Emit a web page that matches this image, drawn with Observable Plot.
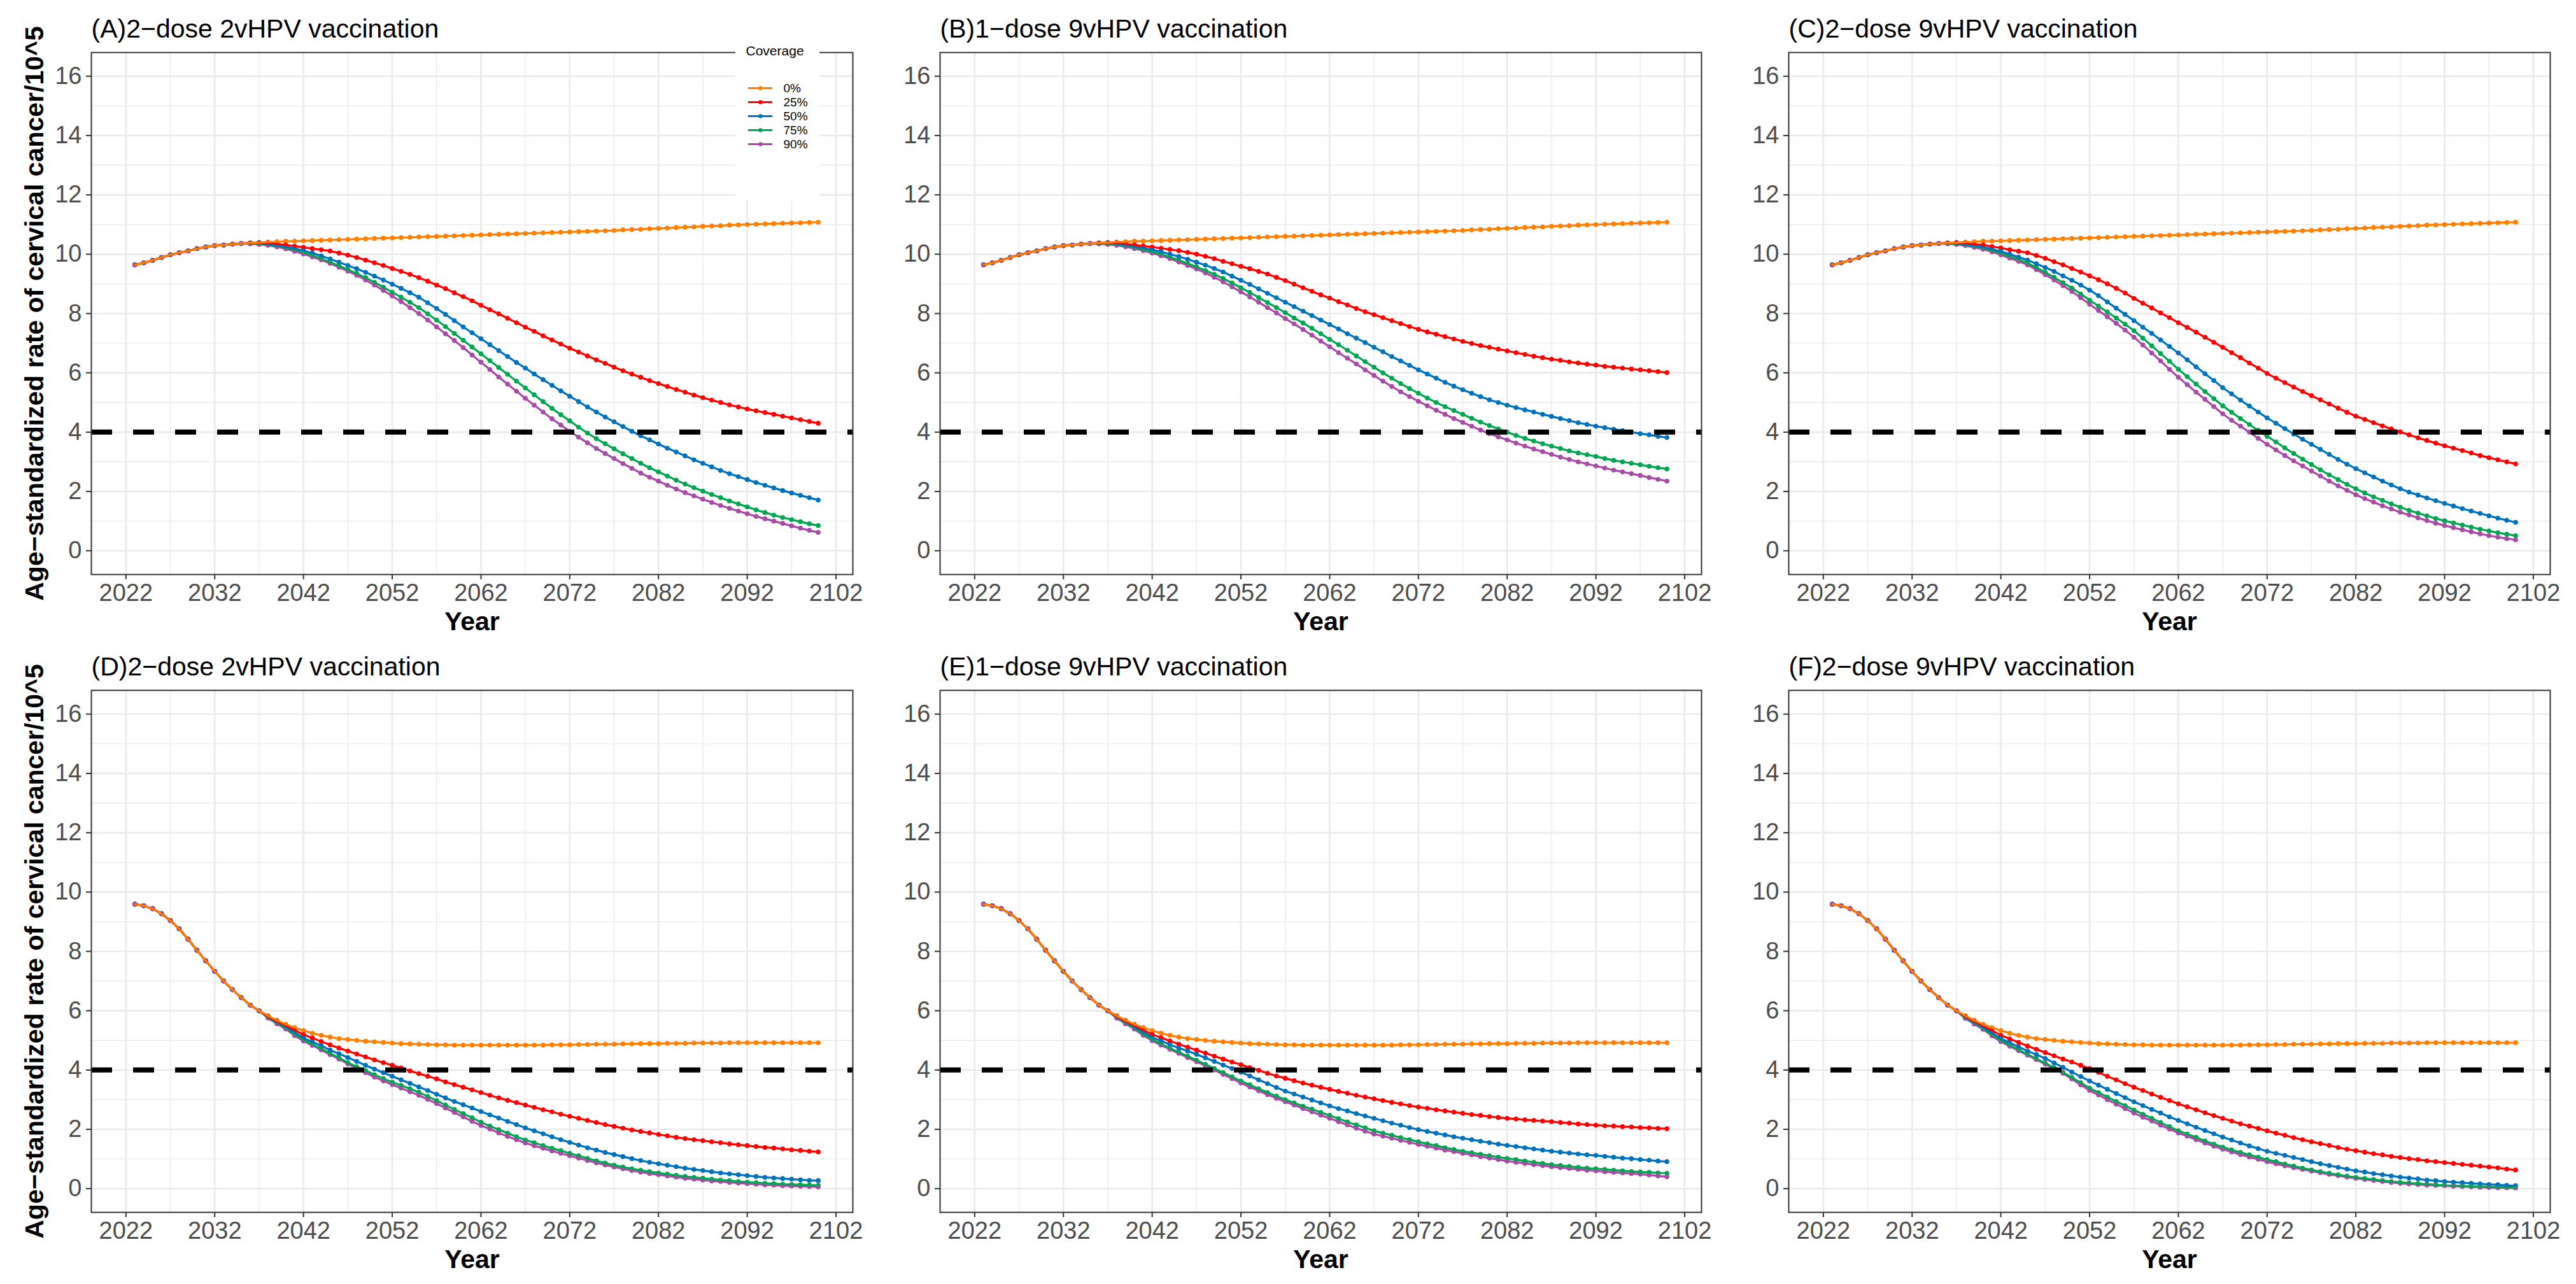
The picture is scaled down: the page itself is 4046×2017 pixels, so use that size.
<!DOCTYPE html>
<html><head><meta charset="utf-8">
<script src="https://cdn.jsdelivr.net/npm/d3@7"></script>
<script src="https://cdn.jsdelivr.net/npm/@observablehq/plot@0.6"></script>
<style>
html,body{margin:0;padding:0;background:#fff;}
#fig{position:relative;width:4046px;height:2017px;background:#fff;overflow:hidden;}
.panel{position:absolute;}
.legend{position:absolute;background:#fff;z-index:5;}
</style></head><body><div id="fig"></div>
<script>
// ---------------- data ----------------
const years = [2023,2024,2025,2026,2027,2028,2029,2030,2031,2032,2033,2034,2035,2036,2037,2038,2039,2040,2041,2042,2043,2044,2045,2046,2047,2048,2049,2050,2051,2052,2053,2054,2055,2056,2057,2058,2059,2060,2061,2062,2063,2064,2065,2066,2067,2068,2069,2070,2071,2072,2073,2074,2075,2076,2077,2078,2079,2080,2081,2082,2083,2084,2085,2086,2087,2088,2089,2090,2091,2092,2093,2094,2095,2096,2097,2098,2099,2100];
const coverage = ["0%","25%","50%","75%","90%"];
const colors = ["#FF7F00","#FF0000","#0072BD","#00A651","#A64CA6"];
const xTicks = [2022,2032,2042,2052,2062,2072,2082,2092,2102];
const xMinor = [2027,2037,2047,2057,2067,2077,2087,2097];
const yTicks = [0,2,4,6,8,10,12,14,16];
const yMinor = [1,3,5,7,9,11,13,15];
const threshold = 4;
const titles = ["(A)2\u2212dose 2vHPV vaccination","(B)1\u2212dose 9vHPV vaccination","(C)2\u2212dose 9vHPV vaccination",
                "(D)2\u2212dose 2vHPV vaccination","(E)1\u2212dose 9vHPV vaccination","(F)2\u2212dose 9vHPV vaccination"];
const yLabel = "Age\u2212standardized rate of cervical cancer/10^5";
const xLabel = "Year";
const legendTitle = "Coverage";

// top row, 0% coverage (2023-2100), same in A, B, C
const top0 = [9.64,9.71,9.79,9.89,9.98,10.05,10.11,10.19,10.24,10.29,
10.31,10.34,10.36,10.38,10.39,10.41,10.42,10.44,10.44,10.45,
10.46,10.47,10.48,10.49,10.50,10.51,10.52,10.53,10.54,10.55,
10.56,10.57,10.58,10.59,10.60,10.61,10.62,10.63,10.64,10.65,
10.66,10.67,10.68,10.69,10.70,10.71,10.72,10.73,10.74,10.75,
10.76,10.77,10.78,10.79,10.80,10.82,10.83,10.84,10.86,10.87,
10.88,10.90,10.91,10.92,10.94,10.95,10.96,10.98,10.99,11.00,
11.01,11.02,11.03,11.04,11.05,11.06,11.07,11.08];
// 2023-2035 identical for all coverages in the top row
const topShared = top0.slice(0, 13);

// vaccinated series from 2036 to 2100
const A25 = topShared.concat([10.38,10.39,10.38,10.35,10.31,10.27,10.23,10.19,10.15,10.11,
10.04,9.97,9.89,9.80,9.71,9.62,9.52,9.42,9.32,9.21,
9.09,8.96,8.84,8.70,8.57,8.43,8.28,8.13,7.99,7.84,
7.69,7.54,7.40,7.25,7.11,6.97,6.83,6.70,6.57,6.44,
6.32,6.19,6.07,5.96,5.85,5.74,5.64,5.54,5.44,5.35,
5.25,5.16,5.08,5.00,4.92,4.85,4.78,4.72,4.66,4.60,
4.54,4.48,4.42,4.36,4.30]);
const A50 = topShared.concat([10.37,10.37,10.34,10.30,10.25,10.19,10.12,10.04,9.94,9.84,
9.73,9.62,9.51,9.39,9.26,9.13,8.99,8.85,8.70,8.55,
8.36,8.17,7.97,7.76,7.55,7.35,7.15,6.95,6.75,6.55,
6.35,6.16,5.96,5.77,5.58,5.39,5.21,5.03,4.85,4.68,
4.51,4.35,4.19,4.03,3.88,3.74,3.60,3.46,3.33,3.20,
3.07,2.95,2.83,2.71,2.60,2.50,2.40,2.30,2.21,2.12,
2.03,1.95,1.87,1.79,1.71]);
const A75 = topShared.concat([10.36,10.35,10.32,10.28,10.22,10.15,10.06,9.96,9.85,9.73,
9.61,9.48,9.35,9.21,9.05,8.89,8.72,8.55,8.38,8.20,
7.99,7.78,7.56,7.33,7.10,6.87,6.64,6.41,6.18,5.95,
5.72,5.49,5.26,5.03,4.80,4.59,4.38,4.17,3.97,3.78,
3.61,3.44,3.27,3.11,2.95,2.80,2.66,2.52,2.38,2.25,
2.13,2.01,1.90,1.79,1.68,1.58,1.48,1.38,1.29,1.20,
1.12,1.05,0.98,0.91,0.85]);
const A90 = topShared.concat([10.35,10.33,10.30,10.25,10.18,10.10,10.01,9.91,9.81,9.69,
9.56,9.43,9.29,9.13,8.96,8.78,8.59,8.40,8.20,8.00,
7.78,7.55,7.32,7.09,6.85,6.60,6.36,6.11,5.86,5.62,
5.38,5.14,4.91,4.68,4.45,4.24,4.03,3.83,3.64,3.45,
3.28,3.11,2.94,2.78,2.62,2.48,2.35,2.21,2.08,1.96,
1.85,1.74,1.63,1.53,1.43,1.34,1.25,1.16,1.08,1.00,
0.92,0.84,0.76,0.69,0.62]);

const B25 = topShared.concat([10.38,10.39,10.38,10.35,10.31,10.28,10.24,10.20,10.16,10.12,
10.06,10.00,9.93,9.85,9.76,9.68,9.59,9.51,9.42,9.33,
9.22,9.11,8.99,8.87,8.75,8.63,8.52,8.40,8.29,8.17,
8.06,7.96,7.86,7.76,7.66,7.56,7.47,7.38,7.30,7.22,
7.14,7.06,6.99,6.92,6.86,6.80,6.74,6.68,6.62,6.56,
6.51,6.46,6.42,6.37,6.33,6.29,6.26,6.22,6.19,6.16,
6.13,6.10,6.07,6.04,6.01]);
const B50 = topShared.concat([10.37,10.37,10.35,10.31,10.26,10.21,10.15,10.08,10.00,9.92,
9.83,9.73,9.63,9.52,9.40,9.26,9.12,8.98,8.83,8.68,
8.53,8.38,8.23,8.08,7.93,7.78,7.63,7.48,7.32,7.17,
7.02,6.86,6.71,6.55,6.40,6.25,6.10,5.96,5.82,5.68,
5.55,5.43,5.31,5.20,5.09,5.00,4.91,4.83,4.75,4.68,
4.60,4.53,4.46,4.39,4.32,4.26,4.20,4.15,4.10,4.05,
4.00,3.95,3.91,3.86,3.82]);
const B75 = topShared.concat([10.36,10.35,10.32,10.28,10.23,10.16,10.08,10.00,9.90,9.80,
9.69,9.57,9.45,9.32,9.18,9.03,8.87,8.71,8.54,8.37,
8.20,8.03,7.85,7.68,7.50,7.32,7.13,6.95,6.76,6.57,
6.38,6.19,6.00,5.82,5.64,5.47,5.31,5.15,5.00,4.86,
4.73,4.60,4.47,4.34,4.22,4.11,4.00,3.89,3.79,3.70,
3.61,3.53,3.45,3.37,3.30,3.24,3.18,3.11,3.05,3.00,
2.95,2.90,2.85,2.80,2.76]);
const B90 = topShared.concat([10.35,10.33,10.30,10.25,10.19,10.12,10.04,9.95,9.85,9.74,
9.62,9.50,9.37,9.22,9.07,8.90,8.73,8.56,8.38,8.20,
8.02,7.83,7.65,7.46,7.27,7.07,6.88,6.68,6.49,6.30,
6.10,5.91,5.72,5.54,5.36,5.20,5.04,4.89,4.74,4.60,
4.46,4.33,4.20,4.07,3.95,3.84,3.74,3.63,3.53,3.43,
3.34,3.25,3.16,3.08,3.00,2.93,2.86,2.79,2.72,2.66,
2.60,2.54,2.47,2.41,2.35]);

const C25 = topShared.concat([10.38,10.39,10.37,10.34,10.31,10.26,10.21,10.15,10.10,10.05,
9.96,9.86,9.75,9.64,9.52,9.40,9.27,9.14,9.00,8.85,
8.69,8.51,8.35,8.19,8.02,7.86,7.69,7.53,7.37,7.20,
7.03,6.86,6.68,6.51,6.33,6.16,5.98,5.82,5.67,5.52,
5.37,5.23,5.09,4.95,4.81,4.67,4.54,4.43,4.32,4.21,
4.11,4.01,3.91,3.81,3.72,3.63,3.54,3.46,3.38,3.30,
3.21,3.14,3.07,3.00,2.93]);
const C50 = topShared.concat([10.37,10.36,10.33,10.29,10.24,10.17,10.09,10.00,9.90,9.80,
9.68,9.55,9.42,9.27,9.12,8.96,8.79,8.60,8.39,8.18,
7.97,7.76,7.54,7.33,7.11,6.89,6.67,6.44,6.20,5.97,
5.74,5.50,5.29,5.08,4.88,4.68,4.48,4.30,4.12,3.94,
3.76,3.59,3.42,3.25,3.08,2.92,2.77,2.63,2.49,2.35,
2.22,2.09,1.98,1.88,1.78,1.69,1.60,1.51,1.42,1.34,
1.26,1.18,1.10,1.03,0.96]);
const C75 = topShared.concat([10.36,10.34,10.31,10.26,10.21,10.12,10.03,9.93,9.82,9.70,
9.55,9.39,9.22,9.04,8.86,8.66,8.45,8.25,8.05,7.85,
7.64,7.42,7.17,6.91,6.65,6.39,6.12,5.87,5.62,5.37,
5.13,4.89,4.67,4.46,4.26,4.06,3.86,3.67,3.47,3.28,
3.09,2.91,2.73,2.56,2.40,2.24,2.09,1.95,1.82,1.70,
1.58,1.47,1.36,1.27,1.18,1.09,1.01,0.94,0.87,0.80,
0.73,0.67,0.61,0.56,0.51]);
const C90 = topShared.concat([10.35,10.33,10.29,10.23,10.17,10.08,9.98,9.87,9.76,9.64,
9.48,9.31,9.13,8.94,8.74,8.53,8.31,8.10,7.89,7.67,
7.44,7.20,6.94,6.67,6.40,6.12,5.85,5.60,5.35,5.11,
4.86,4.62,4.40,4.20,4.00,3.79,3.59,3.40,3.21,3.03,
2.86,2.69,2.52,2.35,2.19,2.04,1.89,1.76,1.64,1.52,
1.41,1.30,1.21,1.11,1.02,0.93,0.85,0.78,0.71,0.64,
0.57,0.51,0.46,0.41,0.37]);

// bottom row, 0% coverage (2023-2100), same in D, E, F
const bot0 = [9.59,9.54,9.44,9.27,9.04,8.76,8.41,8.04,7.68,7.33,
7.00,6.71,6.44,6.19,6.00,5.83,5.68,5.54,5.43,5.33,
5.24,5.17,5.11,5.06,5.03,5.00,4.97,4.95,4.93,4.91,
4.89,4.88,4.87,4.86,4.85,4.85,4.84,4.84,4.84,4.84,
4.84,4.84,4.84,4.84,4.84,4.84,4.84,4.85,4.85,4.85,
4.86,4.86,4.87,4.87,4.87,4.88,4.88,4.89,4.89,4.89,
4.90,4.90,4.90,4.91,4.91,4.91,4.91,4.92,4.92,4.92,
4.92,4.92,4.92,4.92,4.92,4.92,4.92,4.92];
// 2023-2037 identical for all coverages in the bottom row
const botShared = bot0.slice(0, 15);

// vaccinated series from 2038 to 2100
const D25 = botShared.concat([5.80,5.64,5.50,5.35,5.19,5.08,4.96,4.85,4.74,4.64,
4.54,4.44,4.34,4.25,4.16,4.07,3.97,3.88,3.79,3.70,
3.60,3.51,3.42,3.33,3.24,3.15,3.06,2.98,2.90,2.82,
2.74,2.66,2.59,2.51,2.44,2.37,2.30,2.23,2.16,2.10,
2.04,1.98,1.93,1.88,1.83,1.78,1.73,1.69,1.65,1.62,
1.58,1.55,1.51,1.48,1.45,1.42,1.39,1.37,1.34,1.31,
1.29,1.26,1.24]);
const D50 = botShared.concat([5.79,5.62,5.46,5.27,5.08,4.95,4.82,4.67,4.55,4.42,
4.29,4.16,4.03,3.91,3.79,3.67,3.55,3.43,3.31,3.18,
3.06,2.94,2.83,2.72,2.60,2.49,2.38,2.27,2.16,2.05,
1.95,1.85,1.75,1.65,1.56,1.47,1.38,1.30,1.22,1.15,
1.08,1.01,0.95,0.89,0.84,0.79,0.74,0.69,0.65,0.61,
0.57,0.53,0.50,0.47,0.44,0.41,0.38,0.36,0.34,0.32,
0.30,0.28,0.27]);
const D75 = botShared.concat([5.77,5.59,5.42,5.20,5.02,4.87,4.72,4.56,4.41,4.25,
4.11,3.98,3.84,3.71,3.59,3.48,3.37,3.25,3.11,2.97,
2.82,2.67,2.53,2.39,2.24,2.11,1.99,1.87,1.75,1.64,
1.55,1.45,1.36,1.28,1.19,1.11,1.02,0.94,0.86,0.79,
0.73,0.67,0.62,0.57,0.53,0.49,0.45,0.41,0.38,0.35,
0.32,0.29,0.27,0.24,0.22,0.20,0.18,0.17,0.15,0.14,
0.13,0.12,0.11]);
const D90 = botShared.concat([5.75,5.56,5.38,5.16,4.98,4.83,4.68,4.52,4.37,4.21,
4.06,3.91,3.76,3.63,3.51,3.39,3.27,3.15,3.01,2.87,
2.72,2.57,2.42,2.27,2.13,2.01,1.88,1.76,1.65,1.54,
1.45,1.36,1.27,1.19,1.11,1.03,0.95,0.87,0.80,0.73,
0.67,0.61,0.56,0.51,0.47,0.43,0.39,0.35,0.32,0.29,
0.26,0.24,0.21,0.19,0.17,0.15,0.13,0.12,0.10,0.09,
0.08,0.07,0.06]);

const E25 = botShared.concat([5.80,5.64,5.50,5.35,5.20,5.09,4.98,4.87,4.77,4.67,
4.57,4.47,4.37,4.27,4.18,4.08,3.99,3.89,3.80,3.72,
3.64,3.56,3.49,3.42,3.35,3.28,3.22,3.15,3.09,3.03,
2.97,2.91,2.86,2.80,2.75,2.71,2.66,2.62,2.58,2.54,
2.50,2.47,2.43,2.40,2.37,2.35,2.32,2.30,2.28,2.26,
2.23,2.21,2.18,2.16,2.14,2.12,2.11,2.09,2.08,2.06,
2.05,2.03,2.02]);
const E50 = botShared.concat([5.79,5.62,5.46,5.28,5.10,4.98,4.86,4.74,4.64,4.53,
4.41,4.29,4.17,4.05,3.93,3.80,3.67,3.54,3.41,3.29,
3.19,3.09,2.99,2.89,2.79,2.70,2.62,2.53,2.45,2.37,
2.29,2.21,2.14,2.06,1.99,1.93,1.87,1.81,1.75,1.70,
1.65,1.60,1.55,1.50,1.46,1.42,1.38,1.34,1.30,1.26,
1.23,1.20,1.17,1.14,1.12,1.09,1.06,1.03,1.01,0.98,
0.96,0.93,0.91]);
const E75 = botShared.concat([5.77,5.59,5.42,5.21,5.03,4.88,4.74,4.60,4.47,4.33,
4.19,4.05,3.91,3.77,3.63,3.50,3.37,3.24,3.12,3.00,
2.89,2.78,2.68,2.57,2.47,2.36,2.25,2.15,2.05,1.95,
1.87,1.80,1.72,1.65,1.58,1.51,1.45,1.38,1.32,1.26,
1.21,1.16,1.11,1.06,1.02,0.98,0.93,0.89,0.85,0.81,
0.78,0.75,0.72,0.69,0.67,0.65,0.62,0.60,0.58,0.56,
0.55,0.53,0.52]);
const E90 = botShared.concat([5.75,5.56,5.38,5.17,4.99,4.84,4.70,4.56,4.42,4.28,
4.14,4.00,3.85,3.71,3.56,3.43,3.30,3.17,3.05,2.93,
2.82,2.70,2.59,2.48,2.37,2.26,2.15,2.04,1.94,1.84,
1.77,1.70,1.63,1.56,1.49,1.43,1.37,1.30,1.25,1.19,
1.14,1.08,1.03,0.98,0.93,0.89,0.85,0.81,0.78,0.74,
0.71,0.68,0.65,0.62,0.60,0.57,0.55,0.53,0.51,0.49,
0.46,0.43,0.40]);

const F25 = botShared.concat([5.80,5.64,5.49,5.33,5.17,5.05,4.93,4.81,4.70,4.59,
4.48,4.37,4.27,4.16,4.05,3.92,3.79,3.67,3.54,3.42,
3.31,3.19,3.08,2.97,2.86,2.76,2.66,2.56,2.46,2.37,
2.28,2.19,2.11,2.03,1.95,1.87,1.80,1.72,1.65,1.58,
1.52,1.46,1.39,1.33,1.28,1.23,1.18,1.14,1.09,1.05,
1.01,0.98,0.94,0.91,0.88,0.85,0.82,0.79,0.76,0.73,
0.70,0.66,0.63]);
const F50 = botShared.concat([5.78,5.61,5.44,5.25,5.06,4.92,4.78,4.64,4.52,4.39,
4.24,4.09,3.93,3.78,3.63,3.49,3.35,3.21,3.07,2.93,
2.80,2.67,2.55,2.42,2.30,2.19,2.07,1.96,1.85,1.74,
1.64,1.54,1.44,1.35,1.26,1.19,1.12,1.05,0.98,0.91,
0.84,0.78,0.72,0.66,0.60,0.56,0.51,0.47,0.43,0.39,
0.36,0.33,0.29,0.27,0.24,0.22,0.20,0.18,0.16,0.14,
0.13,0.11,0.10]);
const F75 = botShared.concat([5.76,5.58,5.40,5.19,5.00,4.84,4.68,4.53,4.38,4.23,
4.08,3.92,3.75,3.57,3.39,3.24,3.09,2.94,2.80,2.65,
2.51,2.37,2.23,2.09,1.95,1.84,1.73,1.61,1.50,1.40,
1.31,1.22,1.14,1.06,0.98,0.91,0.83,0.76,0.69,0.63,
0.57,0.52,0.47,0.42,0.38,0.34,0.31,0.27,0.24,0.21,
0.19,0.17,0.15,0.13,0.11,0.10,0.09,0.08,0.07,0.06,
0.05,0.05,0.04]);
const F90 = botShared.concat([5.74,5.55,5.37,5.15,4.96,4.80,4.65,4.50,4.35,4.20,
4.05,3.89,3.70,3.50,3.31,3.16,3.00,2.85,2.70,2.55,
2.41,2.28,2.14,2.01,1.88,1.77,1.65,1.54,1.43,1.33,
1.24,1.15,1.07,0.99,0.91,0.84,0.77,0.71,0.65,0.59,
0.54,0.48,0.44,0.39,0.35,0.31,0.28,0.24,0.21,0.18,
0.16,0.14,0.12,0.11,0.10,0.08,0.07,0.06,0.05,0.04,
0.03,0.03,0.02]);

const panelSeries = [
  [top0, A25, A50, A75, A90],
  [top0, B25, B50, B75, B90],
  [top0, C25, C50, C75, C90],
  [bot0, D25, D50, D75, D90],
  [bot0, E25, E50, E75, E90],
  [bot0, F25, F50, F75, F90]
];

// ---------------- layout ----------------
const FONT = '"Liberation Sans", Arial, Helvetica, sans-serif';
const colLeft = [143, 1476, 2809];   // frame left edge of each column
const rowTop = [0, 1002];
const frameW = 1196, mT = 82, mB = 100, mL = 143, mR = 30, svgH = 1002;

const fig = document.getElementById("fig");

function toRows(list, order) {
  const out = [];
  for (const i of order) {
    const vals = list[i];
    if (vals.length !== years.length) console.warn("length mismatch", i, vals.length);
    vals.forEach((v, j) => out.push({year: years[j], value: v, cov: coverage[i]}));
  }
  return out;
}

panelSeries.forEach((list, k) => {
  const col = k % 3, row = Math.floor(k / 3);
  const dotRows = toRows(list, [0, 1, 2, 3, 4]);
  const lineRows = toRows(list, [4, 3, 2, 1, 0]);
  const marks = [
    Plot.gridX(xMinor, {stroke: "#EBEBEB", strokeOpacity: 1, strokeWidth: 1.4}),
    Plot.gridY(yMinor, {stroke: "#EBEBEB", strokeOpacity: 1, strokeWidth: 1.4}),
    Plot.gridX(xTicks, {stroke: "#EBEBEB", strokeOpacity: 1, strokeWidth: 2.7}),
    Plot.gridY(yTicks, {stroke: "#EBEBEB", strokeOpacity: 1, strokeWidth: 2.7}),
    Plot.dot(dotRows, {x: "year", y: "value", fill: "cov", r: 3.8}),
    Plot.line(lineRows, {x: "year", y: "value", z: "cov", stroke: "cov", strokeWidth: 3.2}),
    Plot.ruleY([threshold], {stroke: "#000", strokeWidth: 8, strokeDasharray: "33,33"}),
    Plot.frame({stroke: "#333333", strokeWidth: 2}),
    Plot.axisX({ticks: xTicks, tickFormat: d => String(d), tickSize: 8, tickPadding: 7, fontSize: 38,
                fill: "#4D4D4D", stroke: "#333333", strokeWidth: 2, label: null}),
    Plot.axisY({ticks: yTicks, tickFormat: d => String(d), tickSize: 8, tickPadding: 7, fontSize: 38,
                fill: "#4D4D4D", stroke: "#333333", strokeWidth: 2, label: null}),
    Plot.text([titles[k]], {text: d => d, frameAnchor: "top-left", dy: -24, textAnchor: "start",
                lineAnchor: "bottom", fontSize: 41, fill: "#000"}),
    Plot.text([xLabel], {text: d => d, frameAnchor: "bottom", dy: 74, lineAnchor: "middle",
                fontSize: 41, fontWeight: "bold", fill: "#000"})
  ];
  if (col === 0) {
    marks.push(Plot.text([yLabel], {text: d => d, frameAnchor: "left", dx: -89, rotate: -90,
                lineAnchor: "middle", textAnchor: "middle", fontSize: 41, fontWeight: "bold", fill: "#000"}));
  }
  const svg = Plot.plot({
    width: mL + frameW + mR, height: svgH,
    marginLeft: mL, marginRight: mR, marginTop: mT, marginBottom: mB,
    x: {domain: [2018.1, 2103.9]},
    y: {domain: [-0.8, 16.8]},
    color: {domain: coverage, range: colors},
    style: {fontFamily: FONT, background: "transparent", overflow: "visible"},
    marks
  });
  const wrap = document.createElement("div");
  wrap.className = "panel";
  wrap.style.left = (colLeft[col] - mL) + "px";
  wrap.style.top = rowTop[row] + "px";
  wrap.appendChild(svg);
  fig.appendChild(wrap);
});

// ---------------- legend (panel A) ----------------
const legend = Plot.plot({
  width: 132, height: 255, margin: 0,
  x: {type: "identity", axis: null},
  y: {type: "point", domain: coverage, range: [66, 178], axis: null},
  color: {domain: coverage, range: colors},
  style: {fontFamily: FONT, background: "#fff"},
  marks: [
    Plot.text([legendTitle], {text: d => d, frameAnchor: "top-left", dx: 16, dy: 26, textAnchor: "start",
               lineAnchor: "bottom", fontSize: 21, fill: "#000"}),
    Plot.ruleY(coverage, {y: d => d, x1: 20, x2: 58, stroke: d => d, strokeWidth: 3}),
    Plot.dot(coverage, {y: d => d, x: 39, fill: d => d, r: 3.3}),
    Plot.text(coverage, {y: d => d, x: 75, text: d => d, textAnchor: "start", fontSize: 19, fill: "#000"})
  ]
});
const lg = document.createElement("div");
lg.className = "legend";
lg.style.left = "1155px";
lg.style.top = "60px";
lg.appendChild(legend);
fig.appendChild(lg);
</script>
</body></html>
